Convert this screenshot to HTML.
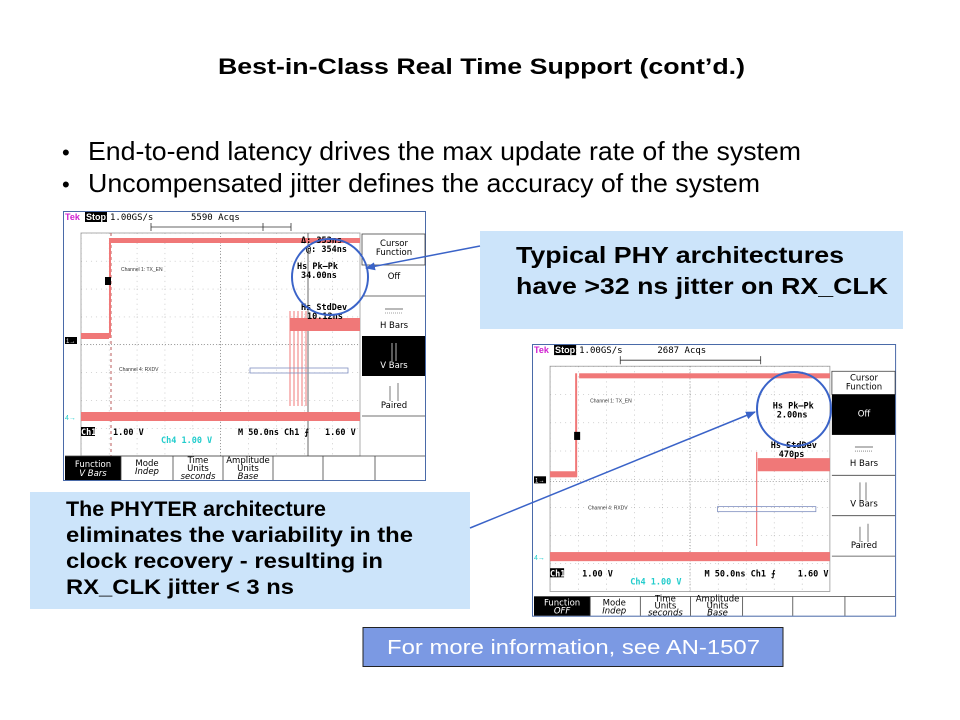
<!DOCTYPE html>
<html><head><meta charset="utf-8"><style>
html,body{margin:0;padding:0;background:#fff;}
svg{display:block;}
</style></head><body>
<svg width="960" height="720" viewBox="0 0 960 720" xmlns="http://www.w3.org/2000/svg" font-family="'Liberation Sans', sans-serif">
<defs>
<marker id="ah" markerWidth="10" markerHeight="8" refX="9" refY="4" orient="auto" markerUnits="userSpaceOnUse">
<path d="M0,0 L10,4 L0,8 z" fill="#3a63c8"/></marker>
<pattern id="grid" x="18" y="22" width="27.9" height="27.9" patternUnits="userSpaceOnUse">
<path d="M0,0 H27.9 M0,0 V27.9" stroke="#888" stroke-width="0.8" stroke-dasharray="1,4" fill="none"/></pattern>
</defs>
<rect width="960" height="720" fill="#fff"/>
<text x="218" y="74" font-size="22" font-weight="bold" textLength="527" lengthAdjust="spacingAndGlyphs">Best-in-Class Real Time Support (cont’d.)</text>
<text x="62" y="160" font-size="22">•</text>
<text x="88" y="160" font-size="26" textLength="713" lengthAdjust="spacingAndGlyphs">End-to-end latency drives the max update rate of the system</text>
<text x="62" y="192" font-size="22">•</text>
<text x="88" y="192" font-size="26" textLength="672" lengthAdjust="spacingAndGlyphs">Uncompensated jitter defines the accuracy of the system</text>

<!-- Scope 1 -->
<g transform="translate(63,211)">
<rect x="0.5" y="0.5" width="362" height="269" fill="#fff" stroke="#4a6aa8"/>
<text x="2" y="9" font-size="9" fill="#d020d0" font-weight="bold">Tek</text>
<rect x="22" y="1" width="22" height="10" fill="#000"/><text x="23" y="9" font-size="9" fill="#fff" font-weight="bold">Stop:</text>
<text x="47" y="9" font-size="9" font-family="DejaVu Sans Mono, monospace">1.00GS/s</text>
<text x="128" y="9" font-size="9" font-family="DejaVu Sans Mono, monospace">5590 Acqs</text>
<path d="M88,16 H228 M88,12 V20 M228,12 V20 M200,12 V20" stroke="#333" stroke-width="0.8"/>
<rect x="18" y="22" width="279" height="223" fill="url(#grid)" stroke="#999" stroke-width="0.8"/>
<path d="M157.5,22 V245 M18,133.5 H297" stroke="#888" stroke-width="0.8" stroke-dasharray="1,2"/>
<path d="M48,22 V245" stroke="#a33" stroke-width="0.8" stroke-dasharray="3,3"/>
<path d="M245,22 V245" stroke="#444" stroke-width="0.8"/>
<rect x="47" y="27" width="250" height="5" fill="#f07878"/>
<rect x="18" y="122" width="28" height="6" fill="#f07878"/>
<rect x="46" y="27" width="2" height="100" fill="#f07878"/>
<rect x="227" y="107" width="70" height="13" fill="#f07878"/>
<path d="M227,100 V195 M231,100 V195 M235,100 V195 M239,100 V195 M243,100 V195" stroke="#f07878" stroke-width="1"/>
<rect x="18" y="201" width="279" height="9" fill="#f07878"/>
<rect x="187" y="157" width="98" height="5" fill="none" stroke="#8090c0" stroke-width="0.8"/>
<text x="58" y="60" font-size="5" fill="#333">Channel 1: TX_EN</text>
<text x="56" y="160" font-size="5" fill="#333">Channel 4: RXDV</text>
<rect x="42" y="66" width="6" height="8" fill="#000"/>
<rect x="2" y="126" width="12" height="7" fill="#000"/><text x="3" y="132" font-size="6" fill="#fff">1→</text>
<text x="2" y="209" font-size="7" fill="#2cc">4→</text>
<g font-size="8.5" font-family="DejaVu Sans Mono, monospace" font-weight="bold">
<text x="238" y="32">Δ: 353ns</text><text x="243" y="41">@: 354ns</text>
<text x="234" y="58">Hs Pk–Pk</text><text x="238" y="67">34.00ns</text>
<text x="238" y="99">Hs StdDev</text><text x="244" y="108">10.12ns</text>
<rect x="18" y="216" width="14" height="9" fill="#000"/><text x="18" y="224" fill="#fff">Ch1</text>
<text x="50" y="224">1.00 V</text>
<text x="98" y="232" fill="#2cc">Ch4  1.00 V</text>
<text x="175" y="224">M 50.0ns Ch1 ⨍</text>
<text x="262" y="224">1.60 V</text>
</g>
<g font-size="8.5" text-anchor="middle" font-family="DejaVu Sans, sans-serif">
<rect x="299" y="23" width="63" height="31" fill="#fff" stroke="#444" stroke-width="0.8"/>
<text x="331" y="35">Cursor</text><text x="331" y="44">Function</text>
<text x="331" y="68">Off</text>
<path d="M299,85 H362 M299,205 H362" stroke="#444" stroke-width="0.8"/>
<path d="M322,98 H340" stroke="#444" stroke-width="0.8"/><path d="M322,102 H340" stroke="#444" stroke-width="0.6" stroke-dasharray="1,1"/>
<text x="331" y="117">H Bars</text>
<rect x="299" y="125" width="63" height="40" fill="#000"/>
<path d="M329,132 V150 M333,132 V150" stroke="#fff" stroke-width="0.7"/>
<text x="331" y="157" fill="#fff">V Bars</text>
<path d="M327,175 V190 M335,172 V190" stroke="#444" stroke-width="0.7"/>
<text x="331" y="197">Paired</text>
</g>
<g font-size="8.5" text-anchor="middle" font-family="DejaVu Sans, sans-serif">
<rect x="2" y="245" width="56" height="24" fill="#000"/>
<path d="M58,245 V269 M110,245 V269 M160,245 V269 M210,245 V269 M260,245 V269 M312,245 V269 M2,245 H362" stroke="#444" stroke-width="0.8"/>
<text x="30" y="256" fill="#fff">Function</text><text x="30" y="265" fill="#fff" font-style="italic">V Bars</text>
<text x="84" y="255">Mode</text><text x="84" y="263" font-style="italic">Indep</text>
<text x="135" y="252">Time</text><text x="135" y="260">Units</text><text x="135" y="268" font-style="italic">seconds</text>
<text x="185" y="252">Amplitude</text><text x="185" y="260">Units</text><text x="185" y="268" font-style="italic">Base</text>
</g>
</g>
<circle cx="330" cy="277" r="38" fill="none" stroke="#3a63c8" stroke-width="2"/>

<!-- Scope 2 -->
<g transform="translate(532,344) scale(1.003,1.01)">
<rect x="0.5" y="0.5" width="362" height="269" fill="#fff" stroke="#4a6aa8"/>
<text x="2" y="9" font-size="9" fill="#d020d0" font-weight="bold">Tek</text>
<rect x="22" y="1" width="22" height="10" fill="#000"/><text x="23" y="9" font-size="9" fill="#fff" font-weight="bold">Stop:</text>
<text x="47" y="9" font-size="9" font-family="DejaVu Sans Mono, monospace">1.00GS/s</text>
<text x="125" y="9" font-size="9" font-family="DejaVu Sans Mono, monospace">2687 Acqs</text>
<path d="M88,16 H228 M88,12 V20 M228,12 V20" stroke="#333" stroke-width="0.8"/>
<rect x="18" y="22" width="279" height="223" fill="url(#grid)" stroke="#999" stroke-width="0.8"/>
<path d="M157.5,22 V245 M18,136 H297" stroke="#888" stroke-width="0.8" stroke-dasharray="1,2"/>
<rect x="47" y="29" width="250" height="5" fill="#f07878"/>
<rect x="18" y="126" width="27" height="6" fill="#f07878"/>
<rect x="43" y="29" width="2" height="102" fill="#f07878"/>
<rect x="225" y="113" width="72" height="13" fill="#f07878"/>
<path d="M224,107 V200" stroke="#f07878" stroke-width="1.2"/>
<rect x="18" y="206" width="279" height="9" fill="#f07878"/>
<rect x="185" y="161" width="98" height="5" fill="none" stroke="#8090c0" stroke-width="0.8"/>
<text x="58" y="58" font-size="5" fill="#333">Channel 1: TX_EN</text>
<text x="56" y="164" font-size="5" fill="#333">Channel 4: RXDV</text>
<rect x="42" y="87" width="6" height="8" fill="#000"/>
<rect x="2" y="131" width="12" height="7" fill="#000"/><text x="3" y="137" font-size="6" fill="#fff">1→</text>
<text x="2" y="214" font-size="7" fill="#2cc">4→</text>
<g font-size="8.5" font-family="DejaVu Sans Mono, monospace" font-weight="bold">
<text x="240" y="64">Hs Pk–Pk</text><text x="244" y="73">2.00ns</text>
<text x="238" y="103">Hs StdDev</text><text x="246" y="112">470ps</text>
<rect x="18" y="222" width="14" height="9" fill="#000"/><text x="18" y="230" fill="#fff">Ch1</text>
<text x="50" y="230">1.00 V</text>
<text x="98" y="238" fill="#2cc">Ch4  1.00 V</text>
<text x="172" y="230">M 50.0ns Ch1 ⨍</text>
<text x="265" y="230">1.60 V</text>
</g>
<g font-size="8.5" text-anchor="middle" font-family="DejaVu Sans, sans-serif">
<rect x="299" y="27" width="63" height="23" fill="#fff" stroke="#444" stroke-width="0.8"/>
<text x="331" y="36">Cursor</text><text x="331" y="45">Function</text>
<rect x="299" y="50" width="63" height="40" fill="#000"/>
<text x="331" y="72" fill="#fff">Off</text>
<path d="M299,130 H362 M299,170 H362 M299,210 H362" stroke="#444" stroke-width="0.8"/>
<path d="M322,102 H340" stroke="#444" stroke-width="0.8"/><path d="M322,106 H340" stroke="#444" stroke-width="0.6" stroke-dasharray="1,1"/>
<text x="331" y="121">H Bars</text>
<path d="M327,137 V155 M333,137 V155" stroke="#444" stroke-width="0.7"/>
<text x="331" y="161">V Bars</text>
<path d="M327,181 V196 M335,178 V196" stroke="#444" stroke-width="0.7"/>
<text x="331" y="202">Paired</text>
</g>
<g font-size="8.5" text-anchor="middle" font-family="DejaVu Sans, sans-serif">
<rect x="2" y="250" width="56" height="19" fill="#000"/>
<path d="M58,250 V269 M108,250 V269 M158,250 V269 M210,250 V269 M260,250 V269 M312,250 V269 M2,250 H362" stroke="#444" stroke-width="0.8"/>
<text x="30" y="259" fill="#fff">Function</text><text x="30" y="267" fill="#fff" font-style="italic">OFF</text>
<text x="82" y="259">Mode</text><text x="82" y="267" font-style="italic">Indep</text>
<text x="133" y="255">Time</text><text x="133" y="262">Units</text><text x="133" y="269" font-style="italic">seconds</text>
<text x="185" y="255">Amplitude</text><text x="185" y="262">Units</text><text x="185" y="269" font-style="italic">Base</text>
</g>
</g>
<circle cx="794" cy="409" r="37" fill="none" stroke="#3a63c8" stroke-width="2"/>

<!-- Callout boxes -->
<rect x="480" y="231" width="423" height="98" fill="#cce4fa"/>
<text x="516" y="263" font-size="23" font-weight="bold" textLength="328" lengthAdjust="spacingAndGlyphs">Typical PHY architectures</text>
<text x="516" y="294" font-size="23" font-weight="bold" textLength="372" lengthAdjust="spacingAndGlyphs">have &gt;32 ns jitter on RX_CLK</text>
<line x1="480" y1="246" x2="366" y2="268" stroke="#3a63c8" stroke-width="1.5" marker-end="url(#ah)"/>

<rect x="30" y="492" width="440" height="117" fill="#cce4fa"/>
<g font-size="21" font-weight="bold">
<text x="66" y="516" textLength="260" lengthAdjust="spacingAndGlyphs">The PHYTER architecture</text>
<text x="66" y="542" textLength="347" lengthAdjust="spacingAndGlyphs">eliminates the variability in the</text>
<text x="66" y="568" textLength="317" lengthAdjust="spacingAndGlyphs">clock recovery  - resulting in</text>
<text x="66" y="594" textLength="228" lengthAdjust="spacingAndGlyphs">RX_CLK jitter &lt; 3 ns</text>
</g>
<line x1="470" y1="528" x2="755" y2="412" stroke="#3a63c8" stroke-width="1.5" marker-end="url(#ah)"/>

<rect x="363" y="627.5" width="420" height="39" fill="#7b99e3" stroke="#222" stroke-width="1"/>
<text x="387" y="654" font-size="20" fill="#fff" textLength="373" lengthAdjust="spacingAndGlyphs">For more information, see AN-1507</text>
</svg>
</body></html>
